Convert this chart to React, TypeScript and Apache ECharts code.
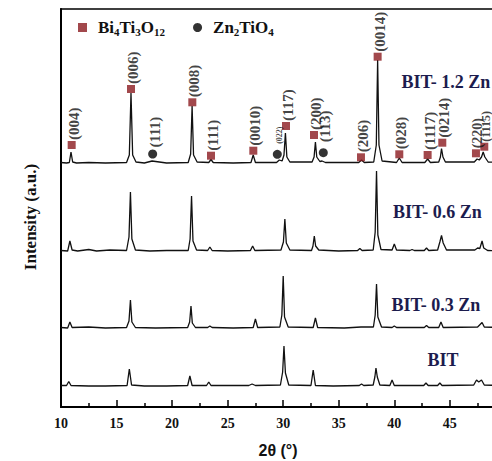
import React, { useEffect, useRef } from "react";
import * as echarts from "echarts";

// ---- Data (2θ in degrees, intensity in arbitrary offset units) ----
const traceBIT12: number[][] = [
  [10, 244.5], [10.5, 244], [10.75, 244.5], [10.9, 255], [11.05, 245], [11.4, 244], [12.5, 244.5], [14, 244],
  [15.9, 244.5], [16.15, 252], [16.3, 314], [16.45, 252], [16.75, 245], [17.5, 244], [18.2, 246], [19.5, 244],
  [21.45, 244.5], [21.67, 253], [21.8, 301], [21.93, 252], [22.25, 245], [23.3, 244.5], [23.5, 247.5], [23.7, 244.5],
  [25.5, 244], [27.1, 244.5], [27.3, 252], [27.5, 244.5], [29.4, 244.5], [29.65, 247], [29.9, 246], [30.07, 252],
  [30.2, 274], [30.33, 250], [30.6, 245], [32.6, 245], [32.78, 250], [32.9, 265], [33.02, 250], [33.3, 245.5],
  [33.5, 246], [33.8, 244.5], [36.8, 244.5], [37.05, 247], [37.3, 244.5], [38.15, 245], [38.38, 262], [38.5, 347],
  [38.62, 262], [38.9, 246], [40.2, 244.5], [40.45, 249], [40.7, 244.5], [42.75, 244.5], [43.0, 248], [43.25, 244.5],
  [44.0, 245], [44.15, 250], [44.25, 258.5], [44.38, 250], [44.6, 245], [47.2, 245], [47.45, 248], [47.65, 247],
  [47.85, 250], [48.0, 255], [48.15, 250], [48.45, 245], [49.5, 244.5],
];
const traceBIT06: number[][] = [
  [10, 156.5], [10.6, 156], [10.8, 166], [11.0, 157], [11.5, 156], [12.5, 157.5], [13.2, 156], [14.4, 157],
  [15.9, 156.5], [16.12, 170], [16.25, 215], [16.38, 168], [16.7, 157], [18, 156], [19.5, 156.5], [21.45, 156.5],
  [21.62, 168], [21.75, 211], [21.88, 166], [22.2, 157], [23.2, 156.5], [23.4, 160], [23.6, 156.5], [25, 156],
  [27.05, 156.5], [27.25, 161], [27.45, 156.5], [29.8, 157], [30.02, 165], [30.15, 188], [30.28, 164], [30.6, 157],
  [32.55, 156.5], [32.68, 161], [32.8, 171], [32.92, 161], [33.2, 157], [35, 156], [36.7, 156.5], [36.9, 158.5],
  [37.1, 156.5], [38.1, 157], [38.28, 175], [38.4, 236], [38.52, 172], [38.8, 157.5], [39.8, 157], [40.0, 163],
  [40.2, 157], [41.4, 156.5], [41.6, 157.5], [41.8, 156.5], [42.7, 156.5], [42.9, 159], [43.1, 156.5], [43.9, 157],
  [44.1, 165], [44.25, 171.5], [44.4, 164], [44.7, 157], [47.25, 157], [47.5, 159], [47.7, 158.5], [47.9, 166],
  [48.05, 159], [48.4, 156.5], [49.5, 156],
];
const traceBIT03: number[][] = [
  [10, 79.5], [10.6, 79], [10.8, 85], [11.0, 79.5], [12.5, 80], [14, 79], [15.9, 79.5], [16.12, 86],
  [16.25, 107], [16.38, 85], [16.7, 79.5], [18.5, 79], [21.4, 79.5], [21.58, 85], [21.7, 101], [21.82, 84],
  [22.1, 79.5], [23.2, 79.5], [23.4, 81], [23.6, 79.5], [25.5, 79], [27.3, 79.5], [27.5, 88], [27.7, 79.5],
  [29.7, 80], [29.88, 92], [30.0, 131], [30.12, 90], [30.45, 80], [32.7, 79.5], [32.9, 89], [33.1, 79.5],
  [35.5, 79], [37, 80], [38.12, 80], [38.28, 92], [38.4, 123], [38.52, 90], [38.85, 80], [39.8, 79.5],
  [40.0, 81], [40.2, 79.5], [42.7, 79.5], [42.9, 81.5], [43.1, 79.5], [44.0, 79.5], [44.2, 85], [44.4, 79.5],
  [47.5, 80], [47.9, 84.5], [48.1, 80], [49.5, 79.5],
];
const traceBIT: number[][] = [
  [10, 21.5], [10.5, 21.5], [10.7, 25.5], [10.9, 21.5], [12.5, 21], [14, 21], [15.95, 21.5], [16.15, 38],
  [16.35, 22], [17.5, 21], [19.5, 21], [21.4, 21.5], [21.6, 31], [21.8, 21.5], [23.1, 21.5], [23.3, 25],
  [23.5, 21.5], [26.9, 21.5], [27.2, 23], [27.5, 21.5], [29.75, 22], [29.95, 35], [30.07, 61], [30.2, 34],
  [30.5, 22], [32.5, 21.5], [32.7, 37], [32.9, 21.5], [34.5, 21], [36.85, 21.5], [37.05, 23], [37.25, 21.5],
  [38.1, 22], [38.25, 30], [38.35, 39], [38.47, 30], [38.7, 22], [39.6, 21.5], [39.8, 27], [40.0, 21.5],
  [42.65, 21.5], [42.85, 24], [43.05, 21.5], [43.9, 21.5], [44.1, 24], [44.3, 21.5], [47.15, 22], [47.4, 27],
  [47.6, 25], [47.85, 27], [48.1, 22], [49.5, 21.5],
];

// Bi4Ti3O12 reflection markers
const bitHkl = ["(004)", "(006)", "(008)", "(111)", "(0010)", "(117)", "(200)", "(206)", "(0014)", "(028)", "(1117)", "(0214)", "(220)", "(1115)"];
const bitMarkX = [10.96, 16.3, 21.82, 23.5, 27.31, 30.25, 32.77, 37.0, 38.5, 40.45, 43.0, 44.32, 47.35, 48.1];
const bitMarkY = [262, 318, 304.7, 251.3, 256.3, 281, 272, 249.7, 350.3, 252.7, 252, 264.3, 253.7, 260.3];
const bitLabelSize = [15, 15, 15, 15, 15, 15, 15, 15, 15, 15, 15, 15, 14, 12];

// Zn2TiO4 reflection markers
const znHkl = ["(111)", "(022)", "(113)"];
const znMarkX = [18.25, 29.47, 33.61];
const znMarkY = [253, 252.7, 254.3];
const znLabelSize = [15, 8, 15];

const xTicks = { min: 10, max: 50, interval: 5 };

const traceNames = ["BIT- 1.2 Zn", "BIT- 0.6 Zn", "BIT- 0.3 Zn", "BIT"];

const SERIF = "'Liberation Serif', 'Times New Roman', serif";

export default function App() {
  const ref = useRef<HTMLDivElement>(null);

  useEffect(() => {
    if (!ref.current) return;
    const chart = echarts.init(ref.current, undefined, { renderer: "svg" });

    const labelBase = {
      show: true,
      position: "top" as const,
      rotate: 90,
      align: "left" as const,
      verticalAlign: "middle" as const,
      distance: 1,
      offset: [0, 2],
      color: "#111",
      fontFamily: SERIF,
      fontWeight: "bold" as const,
    };

    const bitData = bitHkl.map((h, i) => ({
      value: [bitMarkX[i], bitMarkY[i]],
      label: { ...labelBase, formatter: h, fontSize: bitLabelSize[i] },
    }));
    const znData = znHkl.map((h, i) => ({
      value: [znMarkX[i], znMarkY[i]],
      label: { ...labelBase, formatter: h, fontSize: znLabelSize[i], distance: i === 0 ? 2 : 6 },
    }));

    const lineSeries = [traceBIT12, traceBIT06, traceBIT03, traceBIT].map((d, i) => ({
      type: "line" as const,
      name: traceNames[i],
      data: d,
      showSymbol: false,
      silent: true,
      lineStyle: { color: "#111", width: 1.3 },
      z: 2,
    }));

    const navy = "#1c1c4e";
    const traceLabelPos = [
      [401.5, 82],
      [393, 212],
      [391.5, 305],
      [427.5, 360],
    ];

    chart.setOption({
      animation: false,
      backgroundColor: "#fff",
      grid: {
        left: 61,
        top: 9,
        width: 444.4,
        height: 398,
        outerBoundsMode: "none",
        containLabel: false,
        show: true,
        borderColor: "#000",
        borderWidth: 1.6,
        backgroundColor: "transparent",
      },
      legend: {
        left: 73,
        top: 14,
        itemWidth: 9,
        itemHeight: 9,
        itemGap: 28,
        data: ["Bi4Ti3O12", "Zn2TiO4"],
        selectedMode: false,
        formatter: (name: string) =>
          name === "Bi4Ti3O12"
            ? "{n|Bi}{s|4}{n|Ti}{s|3}{n|O}{s|12}"
            : "{n|Zn}{s|2}{n|TiO}{s|4}",
        textStyle: {
          padding: [0, 0, 0, 6],
          rich: {
            n: { fontFamily: SERIF, fontWeight: "bold", fontSize: 17, lineHeight: 20, color: "#111" },
            s: { fontFamily: SERIF, fontWeight: "bold", fontSize: 11, lineHeight: 10, verticalAlign: "bottom", color: "#111" },
          },
        },
      },
      xAxis: {
        type: "value",
        min: xTicks.min,
        max: xTicks.max,
        interval: xTicks.interval,
        axisLine: { show: true, lineStyle: { color: "#000", width: 2 } },
        axisTick: { show: true, inside: true, length: 7, lineStyle: { color: "#000", width: 1.5 } },
        minorTick: { show: true, splitNumber: 2, length: 4, lineStyle: { color: "#000", width: 1.5 } },
        splitLine: { show: false },
        axisLabel: {
          color: "#111",
          fontFamily: SERIF,
          fontWeight: "bold",
          fontSize: 14,
          margin: 9,
          showMaxLabel: false,
        },
      },
      yAxis: {
        type: "value",
        min: 0,
        max: 398,
        axisLine: { show: true, lineStyle: { color: "#000", width: 2 } },
        axisTick: { show: false },
        axisLabel: { show: false },
        splitLine: { show: false },
      },
      series: [
        ...lineSeries,
        {
          type: "scatter",
          name: "Bi4Ti3O12",
          symbol: "rect",
          symbolSize: 8,
          itemStyle: { color: "#8b1a1f" },
          data: bitData,
          z: 5,
        },
        {
          type: "scatter",
          name: "Zn2TiO4",
          symbol: "circle",
          symbolSize: 9,
          itemStyle: { color: "#000" },
          data: znData,
          z: 5,
        },
      ],
      graphic: [
        ...traceNames.map((t, i) => ({
          type: "text",
          x: traceLabelPos[i][0],
          y: traceLabelPos[i][1],
          style: {
            text: t,
            fill: navy,
            font: `bold 18px ${SERIF}`,
            verticalAlign: "middle",
          },
          z: 10,
        })),
        {
          type: "text",
          x: 30,
          y: 217,
          rotation: Math.PI / 2,
          style: {
            text: "Intensity (a.u.)",
            fill: "#111",
            font: `bold 17px ${SERIF}`,
            align: "center",
            verticalAlign: "middle",
          },
        },
        {
          type: "text",
          x: 278,
          y: 450,
          style: {
            text: "2θ (°)",
            fill: "#111",
            font: "bold 16px 'Liberation Sans', Arial, sans-serif",
            align: "center",
            verticalAlign: "middle",
          },
        },
      ],
    });

    return () => chart.dispose();
  }, []);

  return (
    <div
      ref={ref}
      style={{ position: "absolute", left: 0, top: 0, width: 492, height: 461 }}
    />
  );
}
